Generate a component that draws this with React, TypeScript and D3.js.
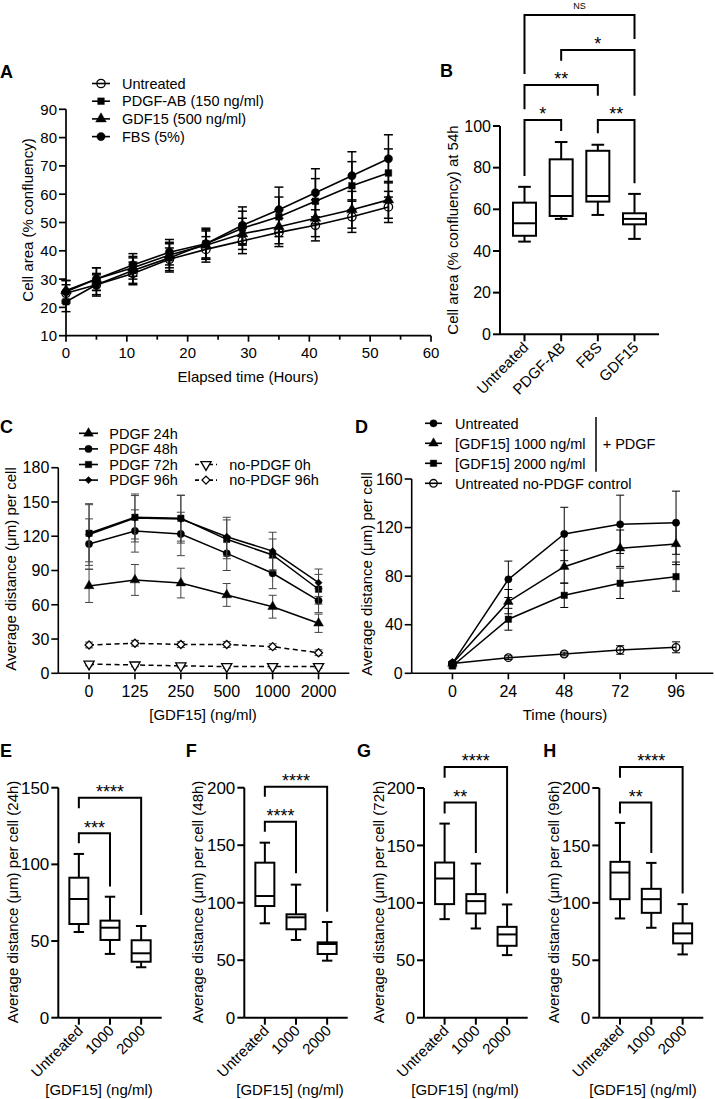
import React from "react";
import * as d3 from "d3";

const FONT = "'Liberation Sans', Arial, Helvetica, sans-serif";

// ===== Panel A data =====
const aTimes = [0, 5, 11, 17, 23, 29, 35, 41, 47, 53];
const aUntreated = [25, 28, 32, 37, 40.5, 43.5, 46.5, 49, 52, 55.5];
const aUntreatedSd = [3, 3.5, 4, 4, 4.5, 4.5, 5, 5.5, 5.5, 5.5];
const aPdgf = [22, 28, 33, 37.5, 42.5, 48, 52, 57.5, 63, 67.5];
const aPdgfSd = [3.5, 4, 4.5, 5, 5.5, 6, 7, 8, 8.5, 8.5];
const aGdf = [26, 30, 34, 38.5, 42, 46, 48.5, 51.5, 54.5, 58];
const aGdfSd = [3.5, 4, 4, 4.5, 5, 5.5, 6, 6.5, 6.5, 6.5];
const aFbs = [25.5, 30, 35, 39.5, 42.5, 49, 54.5, 60.5, 66.5, 72.5];
const aFbsSd = [4, 4, 4, 4.5, 5, 6.5, 8, 8.5, 8.5, 8.5];
const aNames = ["Untreated", "PDGF-AB (150 ng/ml)", "GDF15 (500 ng/ml)", "FBS (5%)"];
const aYTicks = [10, 20, 30, 40, 50, 60, 70, 80, 90];
const aXTicks = [0, 10, 20, 30, 40, 50, 60];
const aXMinor = [5, 15, 25, 35, 45, 55];

// ===== Panel B data (min, q1, median, q3, max) =====
const bCats = ["Untreated", "PDGF-AB", "FBS", "GDF15"];
const bBoxes = [
  [44.5, 47.3, 53.3, 63.2, 70.8],
  [55.4, 56.8, 66.4, 84, 92.3],
  [57.3, 63.7, 66.4, 88.1, 91],
  [45.8, 52.8, 55.4, 58.1, 67.4],
];
const bYTicks = [0, 20, 40, 60, 80, 100];
// [from, to, bar value, left leg end, right leg end, label]
const bBrackets: [number, number, number, number, number, string][] = [
  [0, 3, 153.3, 125, 141.8, "NS"],
  [1, 3, 136.5, 131.3, 114.5, "*"],
  [0, 2, 119.7, 108, 114.5, "**"],
  [0, 1, 102.9, 76, 97.6, "*"],
  [2, 3, 102.9, 96.5, 72.5, "**"],
];

// ===== Panel C data =====
const cCats = ["0", "125", "250", "500", "1000", "2000"];
const cPdgf24 = [76.5, 81.7, 79, 68.6, 58.3, 43.8];
const cPdgf24Sd = [14.5, 13.5, 13, 10, 10, 8];
const cPdgf48 = [113.2, 124.6, 122, 105, 87.6, 63.6];
const cPdgf48Sd = [22, 18.5, 19, 15, 13.5, 10.5];
const cPdgf72 = [122.6, 136.6, 135.7, 117.3, 103.6, 73.6];
const cPdgf72Sd = [25, 19, 20, 17, 14, 13];
const cPdgf96 = [121.5, 136, 135, 119.6, 107, 79.3];
const cPdgf96Sd = [27, 21, 21, 17, 16.5, 12];
const cNo0 = [8.1, 7.3, 6.5, 5.9, 5.9, 5.9];
const cNo0Sd = [1.5, 1.5, 1.5, 1.5, 1.5, 1.5];
const cNo96 = [24.8, 26.3, 25.2, 25.2, 23.3, 18];
const cNo96Sd = [2.5, 2.5, 2.5, 2.5, 2.5, 2.5];
const cYTicks = [0, 30, 60, 90, 120, 150, 180];
const cNames = ["PDGF 24h", "PDGF 48h", "PDGF 72h", "PDGF 96h", "no-PDGF 0h", "no-PDGF 96h"];

// ===== Panel D data =====
const dTimes = [0, 24, 48, 72, 96];
const dUntreated = [8.2, 77.4, 114.7, 122.7, 124];
const dUntreatedSd = [1.5, 15, 22, 24, 26];
const d1000 = [8, 59, 87.8, 103, 106.5];
const d1000Sd = [1.5, 10, 13.5, 15, 17];
const d2000 = [6, 44.5, 64.2, 74.1, 79.6];
const d2000Sd = [1.5, 9, 10, 12.5, 12];
const dNoPdgf = [8, 12.9, 15.9, 19.2, 21.4];
const dNoPdgfSd = [1, 1.5, 1.5, 3.5, 4.5];
const dYTicks = [0, 40, 80, 120, 160];
const dNames = ["Untreated", "[GDF15] 1000 ng/ml", "[GDF15] 2000 ng/ml", "Untreated no-PDGF control"];

// ===== Panels E-H data (min, q1, median, q3, max) =====
const boxCats = ["Untreated", "1000", "2000"];
const eBoxes = [
  [55.9, 61.1, 77.4, 91.3, 106.8],
  [41.6, 50.7, 58.7, 63.3, 78.9],
  [32.9, 36.5, 42, 50.5, 59.8],
];
const fBoxes = [
  [82.1, 97.1, 105.8, 134.8, 152.2],
  [67.6, 76.9, 87.3, 89.9, 115.7],
  [49.6, 55.4, 64.1, 65.5, 83.2],
];
const gBoxes = [
  [85.8, 98.9, 121.2, 135.1, 169],
  [77.7, 90.8, 101.5, 107.6, 134.2],
  [54.5, 62.6, 72.5, 79.1, 98.6],
];
const hBoxes = [
  [86.4, 103.2, 126.4, 135.7, 169.6],
  [78.3, 91.3, 103.2, 112.2, 134.8],
  [55.1, 64.7, 73.4, 82.1, 98.9],
];
const eYTicks = [0, 50, 100, 150];
const fghYTicks = [0, 50, 100, 150, 200];
const eBrackets: [number, number, number, number, number, string][] = [
  [0, 2, 143.5, 136.6, 67, "****"],
  [0, 1, 120.3, 113.8, 85.5, "***"],
];
const fBrackets: [number, number, number, number, number, string][] = [
  [0, 2, 200.9, 192.2, 92.2, "****"],
  [0, 1, 170.4, 161.7, 125.6, "****"],
];
const gBrackets: [number, number, number, number, number, string][] = [
  [0, 2, 218.3, 209, 108.2, "****"],
  [0, 1, 187.3, 177.7, 143.5, "**"],
];
const hBrackets: [number, number, number, number, number, string][] = [
  [0, 2, 218.3, 209, 108.2, "****"],
  [0, 1, 187.3, 177.7, 143.5, "**"],
];

// ===== helpers =====
function Marker({ type, x, y, size }: any) {
  let sym: any = d3.symbolCircle;
  let rot = 0;
  let open = false;
  if (type === "square") sym = d3.symbolSquare;
  else if (type === "triangle") sym = d3.symbolTriangle;
  else if (type === "triDownOpen") { sym = d3.symbolTriangle; rot = 180; open = true; }
  else if (type === "diamond") { sym = d3.symbolSquare; rot = 45; }
  else if (type === "diamondOpen") { sym = d3.symbolSquare; rot = 45; open = true; }
  else if (type === "circleOpen") open = true;
  const d = d3.symbol().type(sym).size(size)() as string;
  const fill = open ? (type === "circleOpen" ? "none" : "#fff") : "#000";
  return (
    <path d={d} transform={`translate(${x},${y}) rotate(${rot})`} fill={fill}
      stroke="#000" strokeWidth={open ? 1.3 : 0.4} />
  );
}

function Series({ x, y, xs, vals, sds, mk, size, dash, sw = 1.5, errSw = 1, errColor = "#000", cap = 8 }: any) {
  const pts: [number, number][] = xs.map((xv: any, i: number) => [x(xv), y(vals[i])]);
  const line = d3.line()(pts) as string;
  return (
    <g>
      {xs.map((xv: any, i: number) => {
        const px = x(xv);
        const t = y(vals[i] + sds[i]);
        const b = y(vals[i] - sds[i]);
        return (
          <g key={i} stroke={errColor} strokeWidth={errSw}>
            <line x1={px} x2={px} y1={t} y2={b} />
            <line x1={px - cap / 2} x2={px + cap / 2} y1={t} y2={t} />
            <line x1={px - cap / 2} x2={px + cap / 2} y1={b} y2={b} />
          </g>
        );
      })}
      <path d={line} fill="none" stroke="#000" strokeWidth={sw} strokeDasharray={dash} />
      {pts.map(([px, py], i) => <Marker key={i} type={mk} x={px} y={py} size={size} />)}
    </g>
  );
}

function YAxis({ x, y, ticks, fs = 16, tickLen = 7, sw = 1.6 }: any) {
  const [d0, d1] = y.domain();
  return (
    <g>
      <line x1={x} x2={x} y1={y(d0)} y2={y(d1)} stroke="#000" strokeWidth={sw} />
      {ticks.map((t: number) => (
        <g key={t}>
          <line x1={x - tickLen} x2={x} y1={y(t)} y2={y(t)} stroke="#000" strokeWidth={sw} />
          <text x={x - tickLen - 2} y={y(t)} dy="0.36em" textAnchor="end" fontSize={fs}>{t}</text>
        </g>
      ))}
    </g>
  );
}

function XAxisLin({ x, y0, ticks, minor = [], fs = 16, tickLen = 6, sw = 1.6, labelDy = 23 }: any) {
  const [r0, r1] = x.range();
  return (
    <g>
      <line x1={r0} x2={r1} y1={y0} y2={y0} stroke="#000" strokeWidth={sw} />
      {ticks.map((t: number) => (
        <g key={t}>
          <line x1={x(t)} x2={x(t)} y1={y0} y2={y0 + tickLen} stroke="#000" strokeWidth={sw} />
          <text x={x(t)} y={y0 + labelDy} textAnchor="middle" fontSize={fs}>{t}</text>
        </g>
      ))}
      {minor.map((t: number) => (
        <line key={"m" + t} x1={x(t)} x2={x(t)} y1={y0} y2={y0 + tickLen - 2} stroke="#000" strokeWidth={sw} />
      ))}
    </g>
  );
}

function XAxisCat({ x, y0, fs = 15, tickLen = 7, sw = 1.6, rotate = false, labelDy = 24 }: any) {
  const [r0, r1] = x.range();
  return (
    <g>
      <line x1={r0} x2={r1} y1={y0} y2={y0} stroke="#000" strokeWidth={sw} />
      {x.domain().map((c: string) => (
        <g key={c}>
          <line x1={x(c)} x2={x(c)} y1={y0} y2={y0 + tickLen} stroke="#000" strokeWidth={sw} />
          {rotate ? (
            <text transform={`translate(${x(c) + 5},${y0 + 14}) rotate(-45)`} textAnchor="end" fontSize={fs}>{c}</text>
          ) : (
            <text x={x(c)} y={y0 + labelDy} textAnchor="middle" fontSize={fs}>{c}</text>
          )}
        </g>
      ))}
    </g>
  );
}

function Box({ cx, y, s, w, sw = 2 }: any) {
  const [mn, q1, md, q3, mx] = s;
  const cap = w * 0.55;
  return (
    <g stroke="#000" strokeWidth={sw} fill="none">
      <line x1={cx} x2={cx} y1={y(mx)} y2={y(q3)} />
      <line x1={cx} x2={cx} y1={y(q1)} y2={y(mn)} />
      <line x1={cx - cap / 2} x2={cx + cap / 2} y1={y(mx)} y2={y(mx)} />
      <line x1={cx - cap / 2} x2={cx + cap / 2} y1={y(mn)} y2={y(mn)} />
      <rect x={cx - w / 2} y={y(q3)} width={w} height={y(q1) - y(q3)} fill="#fff" />
      <line x1={cx - w / 2} x2={cx + w / 2} y1={y(md)} y2={y(md)} />
    </g>
  );
}

function Brackets({ x, y, list, sw = 2 }: any) {
  const cats = x.domain();
  return (
    <g>
      {list.map((b: any, i: number) => {
        const [from, to, bar, l, r, label] = b;
        const x1 = x(cats[from]);
        const x2 = x(cats[to]);
        const yb = y(bar);
        const ns = label === "NS";
        return (
          <g key={i}>
            <path d={`M${x1},${y(l)}V${yb}H${x2}V${y(r)}`} fill="none" stroke="#000" strokeWidth={sw} />
            <text x={(x1 + x2) / 2} y={ns ? yb - 5.5 : yb + 0.5} textAnchor="middle" fontSize={ns ? 9 : 18}>{label}</text>
          </g>
        );
      })}
    </g>
  );
}

function YLabel({ x, y, text, fs = 15 }: any) {
  return <text transform={`translate(${x},${y}) rotate(-90)`} textAnchor="middle" fontSize={fs}>{text}</text>;
}

function PanelLetter({ x, y, t }: any) {
  return <text x={x} y={y} fontSize={18} fontWeight="bold">{t}</text>;
}

function LegendRow({ x1, x2, tx, y, mk, size, label, dash, fs = 14.5 }: any) {
  return (
    <g>
      <line x1={x1} x2={x2} y1={y} y2={y} stroke="#000" strokeWidth={1.6} strokeDasharray={dash} />
      <Marker type={mk} x={(x1 + x2) / 2} y={y} size={size} />
      <text x={tx} y={y} dy="0.36em" fontSize={fs}>{label}</text>
    </g>
  );
}

function BoxPanel({ x, y, boxes, ticks, brackets, letter, lx, ylabel, ylx, titleX }: any) {
  const y0 = y(0);
  const cats = x.domain();
  return (
    <g>
      <PanelLetter x={lx} y={757} t={letter} />
      <Brackets x={x} y={y} list={brackets} />
      {boxes.map((s: number[], i: number) => <Box key={i} cx={x(cats[i])} y={y} s={s} w={19} />)}
      <YAxis x={x.range()[0]} y={y} ticks={ticks} fs={17} sw={2} />
      <XAxisCat x={x} y0={y0} sw={2} rotate />
      <YLabel x={ylx} y={902} text={ylabel} />
      <text x={titleX} y={1095} textAnchor="middle" fontSize={15}>[GDF15] (ng/ml)</text>
    </g>
  );
}

export default function App() {
  // A
  const ax = d3.scaleLinear().domain([0, 60]).range([66, 431]);
  const ay = d3.scaleLinear().domain([10, 90]).range([335.7, 109.3]);
  // B
  const bx = d3.scalePoint<string>().domain(bCats).range([500, 659]).padding(0.668);
  const by = d3.scaleLinear().domain([0, 100]).range([334.3, 126]);
  // C
  const cx = d3.scalePoint<string>().domain(cCats).range([58.3, 349.3]).padding(0.67);
  const cy = d3.scaleLinear().domain([0, 180]).range([673.3, 467.7]);
  // D
  const dx = d3.scaleLinear().domain([-17.5, 112]).range([411.7, 713.3]);
  const dy = d3.scaleLinear().domain([0, 160]).range([673.3, 479]);
  // E-H
  const ex = d3.scalePoint<string>().domain(boxCats).range([58.3, 161.7]).padding(0.66);
  const ey = d3.scaleLinear().domain([0, 150]).range([1017.7, 787.7]);
  const fx = d3.scalePoint<string>().domain(boxCats).range([244.3, 347.7]).padding(0.66);
  const fy = d3.scaleLinear().domain([0, 200]).range([1017.7, 787.7]);
  const gx = d3.scalePoint<string>().domain(boxCats).range([424, 527.7]).padding(0.66);
  const gy = d3.scaleLinear().domain([0, 200]).range([1017.7, 788]);
  const hx = d3.scalePoint<string>().domain(boxCats).range([599.3, 703.3]).padding(0.66);
  const hy = d3.scaleLinear().domain([0, 200]).range([1017.7, 788]);

  const aSeries = [
    { v: aUntreated, sd: aUntreatedSd, mk: "circleOpen", size: 55 },
    { v: aPdgf, sd: aPdgfSd, mk: "square", size: 45 },
    { v: aGdf, sd: aGdfSd, mk: "triangle", size: 50 },
    { v: aFbs, sd: aFbsSd, mk: "circle", size: 55 },
  ];
  const cSeries = [
    { v: cPdgf24, sd: cPdgf24Sd, mk: "triangle", size: 42 },
    { v: cPdgf48, sd: cPdgf48Sd, mk: "circle", size: 42 },
    { v: cPdgf72, sd: cPdgf72Sd, mk: "square", size: 42 },
    { v: cPdgf96, sd: cPdgf96Sd, mk: "diamond", size: 26 },
    { v: cNo0, sd: cNo0Sd, mk: "triDownOpen", size: 45, dash: "5,3.5" },
    { v: cNo96, sd: cNo96Sd, mk: "diamondOpen", size: 32, dash: "5,3.5" },
  ];
  const dSeries = [
    { v: dUntreated, sd: dUntreatedSd, mk: "circle", size: 42 },
    { v: d1000, sd: d1000Sd, mk: "triangle", size: 40 },
    { v: d2000, sd: d2000Sd, mk: "square", size: 42 },
    { v: dNoPdgf, sd: dNoPdgfSd, mk: "circleOpen", size: 45 },
  ];

  return (
    <svg width={715} height={1099} viewBox="0 0 715 1099"
      style={{ position: "absolute", left: 0, top: 0, background: "#fff" }}
      fontFamily={FONT} fill="#000">
      <rect x={0} y={0} width={715} height={1099} fill="#fff" />

      {/* ===== Panel A ===== */}
      <PanelLetter x={0} y={78} t="A" />
      {aSeries.map((s, i) => (
        <Series key={i} x={ax} y={ay} xs={aTimes} vals={s.v} sds={s.sd} mk={s.mk} size={s.size}
          sw={1.6} errSw={1.5} cap={9} />
      ))}
      <YAxis x={66} y={ay} ticks={aYTicks} fs={15} sw={1.7} />
      <XAxisLin x={ax} y0={335.7} ticks={aXTicks} minor={aXMinor} fs={15} sw={1.7} labelDy={22.5} />
      <YLabel x={33} y={220} text="Cell area (% confluency)" />
      <text x={248} y={382} textAnchor="middle" fontSize={15}>Elapsed time (Hours)</text>
      {aNames.map((n, i) => (
        <LegendRow key={n} x1={92} x2={110} tx={122} y={83.5 + i * 17.7} mk={aSeries[i].mk}
          size={aSeries[i].size} label={n} />
      ))}

      {/* ===== Panel B ===== */}
      <PanelLetter x={440} y={77} t="B" />
      <Brackets x={bx} y={by} list={bBrackets} />
      {bBoxes.map((s, i) => <Box key={i} cx={bx(bCats[i])} y={by} s={s} w={23} />)}
      <YAxis x={500} y={by} ticks={bYTicks} fs={16} sw={2} />
      <XAxisCat x={bx} y0={334.3} sw={2} rotate />
      <YLabel x={458} y={230} text="Cell area (% confluency) at 54h" />

      {/* ===== Panel C ===== */}
      <PanelLetter x={0} y={433} t="C" />
      {cSeries.map((s, i) => (
        <Series key={i} x={cx} y={cy} xs={cCats} vals={s.v} sds={s.sd} mk={s.mk} size={s.size}
          dash={s.dash} sw={1.5} errSw={1} errColor="#444" cap={8} />
      ))}
      <YAxis x={58.3} y={cy} ticks={cYTicks} fs={16} sw={1.6} />
      <XAxisCat x={cx} y0={673.3} fs={16} sw={1.6} tickLen={6} labelDy={24} />
      <YLabel x={16} y={569} text="Average distance (μm) per cell" />
      <text x={203} y={719.5} textAnchor="middle" fontSize={15}>[GDF15] (ng/ml)</text>
      {cNames.slice(0, 4).map((n, i) => (
        <LegendRow key={n} x1={79} x2={98} tx={109.3} y={433.3 + i * 15.6} mk={cSeries[i].mk}
          size={cSeries[i].size} label={n} />
      ))}
      {cNames.slice(4).map((n, i) => (
        <LegendRow key={n} x1={195} x2={217} tx={229.3} y={464.5 + i * 15.6} mk={cSeries[4 + i].mk}
          size={cSeries[4 + i].size} label={n} dash="4,3" />
      ))}

      {/* ===== Panel D ===== */}
      <PanelLetter x={355} y={433} t="D" />
      {dSeries.map((s, i) => (
        <Series key={i} x={dx} y={dy} xs={dTimes} vals={s.v} sds={s.sd} mk={s.mk} size={s.size}
          sw={1.5} errSw={1} cap={8} />
      ))}
      <YAxis x={411.7} y={dy} ticks={dYTicks} fs={16} sw={1.6} />
      <XAxisLin x={dx} y0={673.3} ticks={dTimes} fs={16} sw={1.6} labelDy={24} />
      <YLabel x={372} y={574} text="Average distance (μm) per cell" />
      <text x={565} y={719.5} textAnchor="middle" fontSize={15}>Time (hours)</text>
      {dNames.map((n, i) => (
        <LegendRow key={n} x1={425} x2={442} tx={455} y={423.3 + i * 20} mk={dSeries[i].mk}
          size={dSeries[i].size} label={n} />
      ))}
      <line x1={596} x2={596} y1={417} y2={471.7} stroke="#000" strokeWidth={1.5} />
      <text x={602.7} y={443.3} dy="0.36em" fontSize={14.5}>+ PDGF</text>

      {/* ===== Panels E-H ===== */}
      <BoxPanel x={ex} y={ey} boxes={eBoxes} ticks={eYTicks} brackets={eBrackets} letter="E" lx={0}
        ylabel="Average distance (μm) per cell (24h)" ylx={18} titleX={99} />
      <BoxPanel x={fx} y={fy} boxes={fBoxes} ticks={fghYTicks} brackets={fBrackets} letter="F" lx={185.7}
        ylabel="Average distance (μm) per cell (48h)" ylx={203} titleX={290} />
      <BoxPanel x={gx} y={gy} boxes={gBoxes} ticks={fghYTicks} brackets={gBrackets} letter="G" lx={357}
        ylabel="Average distance (μm) per cell (72h)" ylx={384} titleX={465} />
      <BoxPanel x={hx} y={hy} boxes={hBoxes} ticks={fghYTicks} brackets={hBrackets} letter="H" lx={543.3}
        ylabel="Average distance (μm) per cell (96h)" ylx={559} titleX={643} />
    </svg>
  );
}
